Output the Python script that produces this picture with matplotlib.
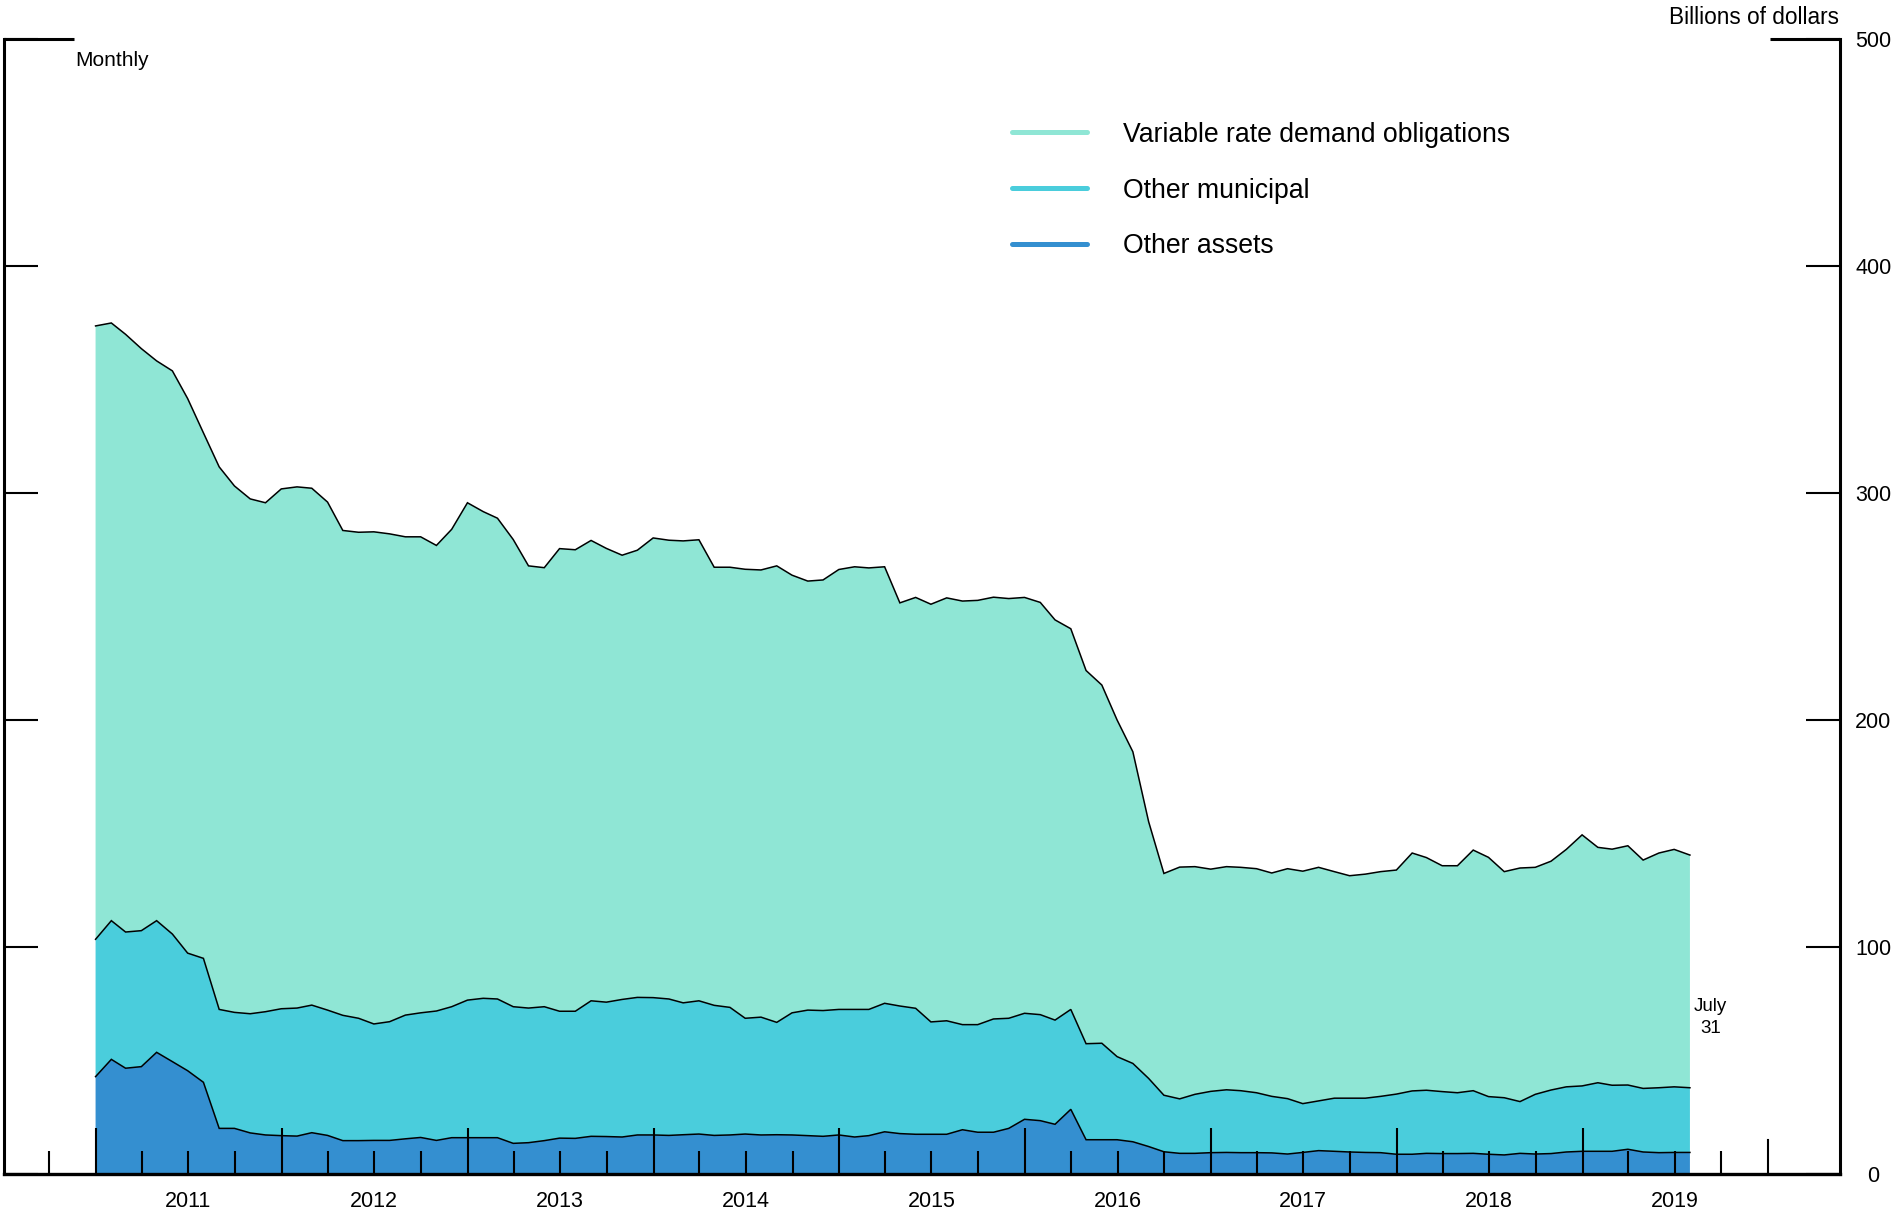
import numpy as np
import pandas as pd
import matplotlib
matplotlib.use("Agg")
import matplotlib.pyplot as plt
import matplotlib.dates as mdates
from matplotlib.lines import Line2D
from matplotlib.ticker import FixedLocator, FixedFormatter, NullFormatter

plt.rcParams['font.family'] = ['Liberation Sans', 'DejaVu Sans']

# ---------------- data (billions of dollars, month-end) ----------------
dates = pd.date_range("2010-12-31", "2019-07-31", freq="ME")

vrdo = [270.2, 263.3, 263.3, 256.4, 246.6, 248.1, 244.3, 231.5, 239.0, 231.9,
        226.8, 224.2, 229.0, 229.6, 227.7, 223.8, 213.6, 214.1, 216.8, 214.9,
        210.7, 209.7, 205.1, 210.3, 219.1, 214.4, 211.8, 205.8, 194.8, 193.4,
        203.8, 203.3, 202.8, 199.9, 195.7, 197.0, 202.5, 202.1, 203.5, 203.1,
        193.0, 193.9, 197.8, 197.0, 201.1, 192.8, 189.0, 189.7, 193.8, 195.0,
        194.5, 192.3, 177.6, 181.0, 184.0, 186.3, 186.6, 186.9, 185.8, 184.9,
        183.2, 181.6, 176.3, 167.7, 164.4, 157.8, 148.3, 137.3, 113.1, 97.7,
        102.1, 100.3, 97.9, 98.3, 98.4, 98.7, 98.4, 101.3, 102.4, 102.9,
        99.8, 98.0, 98.7, 99.0, 98.7, 104.8, 102.5, 99.5, 100.0, 106.0,
        105.4, 99.6, 102.9, 100.0, 100.8, 104.6, 110.6, 103.7, 104.0, 105.4,
        100.6, 103.4, 104.6, 102.5]

other_muni = [60.5, 61.1, 60.0, 59.9, 58.0, 56.2, 51.8, 54.6, 52.4, 51.1,
              52.5, 54.3, 55.9, 56.4, 56.2, 55.2, 55.2, 53.9, 51.3, 52.3,
              54.5, 54.9, 57.0, 57.7, 60.6, 61.4, 61.1, 60.2, 59.3, 59.0,
              55.9, 56.0, 59.7, 59.2, 60.6, 60.6, 60.5, 60.1, 58.1, 58.7,
              57.3, 56.2, 51.0, 51.9, 49.5, 53.8, 55.3, 55.4, 55.3, 56.2,
              55.6, 56.6, 56.2, 55.5, 49.5, 50.0, 46.3, 47.4, 49.9, 48.5,
              46.7, 46.7, 45.9, 44.0, 42.3, 42.5, 36.6, 34.5, 30.0, 24.9,
              24.0, 26.0, 27.0, 27.6, 27.3, 26.4, 24.9, 24.4, 21.5, 21.9,
              23.4, 23.7, 23.9, 24.8, 26.5, 27.9, 27.8, 27.3, 26.8, 27.6,
              25.4, 25.2, 22.8, 26.3, 28.0, 28.7, 28.8, 30.2, 29.1, 28.3,
              28.0, 28.6, 28.9, 28.5]

other_assets = [42.9, 50.5, 46.6, 47.3, 53.6, 49.5, 45.5, 40.4, 20.1, 20.1,
                18.1, 17.2, 16.9, 16.7, 18.2, 17.0, 14.7, 14.7, 14.8, 14.8,
                15.5, 16.1, 14.8, 16.0, 16.0, 16.0, 16.0, 13.5, 13.8, 14.7,
                15.8, 15.7, 16.6, 16.5, 16.3, 17.2, 17.2, 17.0, 17.3, 17.6,
                17.0, 17.2, 17.6, 17.2, 17.3, 17.2, 16.9, 16.6, 17.2, 16.3,
                16.9, 18.6, 17.8, 17.5, 17.5, 17.5, 19.5, 18.4, 18.4, 20.1,
                24.1, 23.5, 21.9, 28.5, 15.1, 15.1, 15.1, 14.2, 12.1, 9.8,
                9.1, 9.1, 9.4, 9.5, 9.4, 9.4, 9.3, 8.8, 9.5, 10.3,
                10.0, 9.7, 9.5, 9.4, 8.7, 8.7, 9.1, 9.0, 9.0, 9.1,
                8.7, 8.4, 9.1, 8.8, 9.0, 9.7, 10.0, 10.0, 10.0, 10.9,
                9.7, 9.4, 9.5, 9.5]

series_labels = ["Variable rate demand obligations", "Other municipal", "Other assets"]
series_colors = ["#8FE6D5", "#4ACDDC", "#348FD0"]
year_labels = [str(y) for y in range(2011, 2020)]
y_ticks = [0, 100, 200, 300, 400, 500]

# ---------------- figure ----------------
W, H = 1898, 1220
fig = plt.figure(figsize=(W / 100, H / 100), dpi=100)
ax = fig.add_axes([4 / W, 46 / H, 1836 / W, 1135 / H])

x = dates.to_numpy()
ax.stackplot(x, other_assets, other_muni, vrdo,
             colors=[series_colors[2], series_colors[1], series_colors[0]],
             linewidth=0)
cum = np.cumsum(np.array([other_assets, other_muni, vrdo]), axis=0)
for row in cum:
    ax.plot(x, row, color="black", lw=1.1, solid_joinstyle="miter")

ax.set_xlim(pd.Timestamp("2010-07-04"), pd.Timestamp("2020-05-21"))
ax.set_ylim(0, 500)

# x ticks: long at year starts, short at quarters, year label mid-year
major_locs = [pd.Timestamp(f"{y}-01-01") for y in range(2011, 2020)]
minor_locs, minor_labs = [], []
for d in pd.date_range("2010-10-01", "2019-10-01", freq="QS"):
    if d.month == 1:
        continue
    minor_locs.append(d)
    minor_labs.append(str(d.year) if d.month == 7 else "")
ax.xaxis.set_major_locator(FixedLocator(mdates.date2num(major_locs)))
ax.xaxis.set_major_formatter(NullFormatter())
ax.xaxis.set_minor_locator(FixedLocator(mdates.date2num(minor_locs)))
ax.xaxis.set_minor_formatter(FixedFormatter(minor_labs))
ax.tick_params(axis="x", which="major", direction="in", length=33, width=1.5,
               top=False)
ax.tick_params(axis="x", which="minor", direction="in", length=16.5, width=1.5,
               top=False, labelsize=15.5, pad=12)
# medium tick at 2020
ax.plot([pd.Timestamp("2020-01-01")] * 2, [0, 34 / 1135], color="black", lw=1.5,
        transform=ax.get_xaxis_transform(), clip_on=False)

# y axis: ticks both sides inward, labels on right
ax.set_yticks(y_ticks)
ax.tick_params(axis="y", which="major", direction="in", length=24.5, width=1.5,
               left=True, right=True, labelleft=False, labelright=True,
               labelsize=15.5, pad=24)
for lbl in ax.yaxis.get_majorticklabels():
    lbl.set_horizontalalignment("center")

for side in ["left", "right"]:
    ax.spines[side].set_linewidth(2.2)
ax.spines["bottom"].set_linewidth(2.4)
ax.spines["top"].set_visible(False)
# long top ticks at 500
tl = 70 / 1836
ax.plot([0, tl], [1, 1], color="black", lw=2.2, transform=ax.transAxes,
        clip_on=False, solid_capstyle="butt")
ax.plot([1 - tl, 1], [1, 1], color="black", lw=2.2, transform=ax.transAxes,
        clip_on=False, solid_capstyle="butt")

# texts
fig.text(75 / W, 1 - 60 / H, "Monthly", ha="left", va="center", fontsize=15)
fig.text(1839 / W, 1 - 17.5 / H, "Billions of dollars", ha="right", va="center",
         fontsize=16.3)
ax.annotate("July\n31", xy=(x[-1], 69.0), xytext=(15, 0),
            textcoords="offset points", ha="center", va="center",
            fontsize=13.5, linespacing=1.4)

# legend
handles = [Line2D([], [], color=c, lw=3.6, solid_capstyle="round")
           for c in series_colors]
fs = 19.2
ax.legend(handles, series_labels, loc="upper left",
          bbox_to_anchor=(1012 / W, 1 - 121.7 / H), bbox_transform=fig.transFigure,
          frameon=False, fontsize=fs, borderpad=0, borderaxespad=0,
          handlelength=2.81, handletextpad=1.35, labelspacing=1.12)

fig.savefig("out.png", dpi=100)
